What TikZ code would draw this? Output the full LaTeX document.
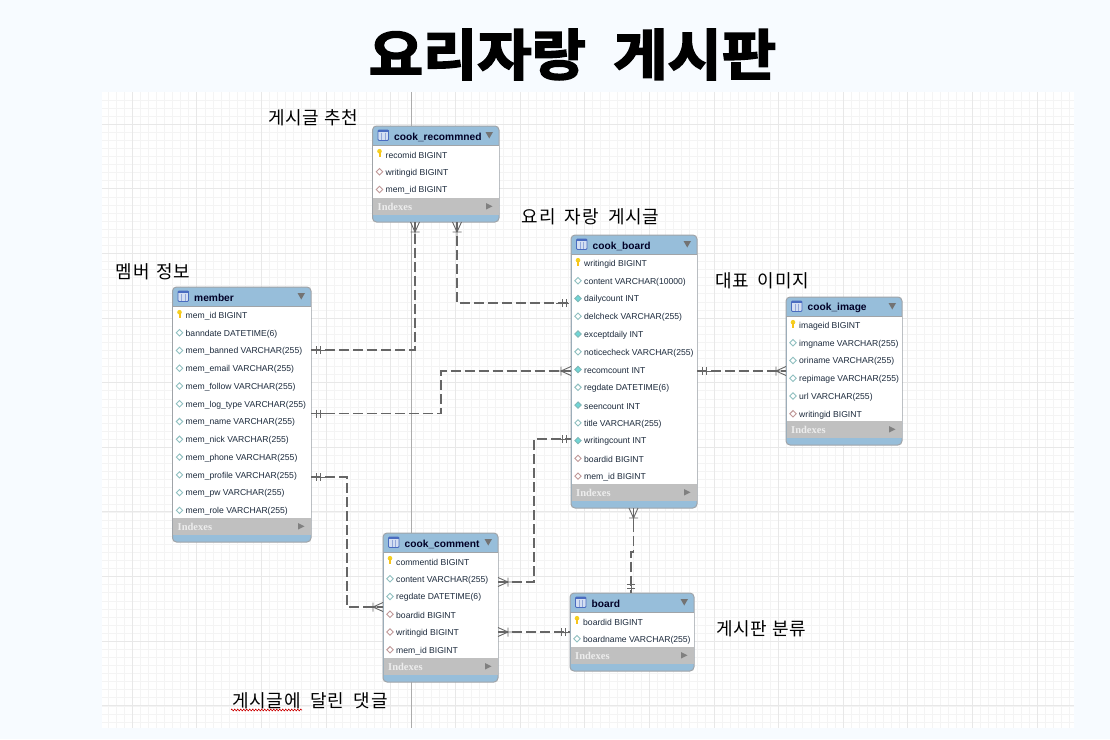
\documentclass[tikz,border=0pt]{standalone}
\usepackage{graphicx}
\usepackage{fontspec}
\setmainfont{Liberation Sans}
\newfontfamily\cjk[LetterSpace=4]{Noto Sans CJK KR}
\newfontfamily\cjktitle[FakeBold=3]{Noto Sans CJK KR Bold}
\newfontfamily\serifb{Liberation Serif Bold}
\usetikzlibrary{decorations.pathmorphing}
\definecolor{pagebg}{HTML}{F7FBFF}
\definecolor{minorg}{HTML}{F4F4F4}
\definecolor{majorg}{HTML}{E8E8E8}
\definecolor{hdr}{HTML}{97BEDA}
\definecolor{band}{HTML}{C0C0C0}
\definecolor{edgeg}{HTML}{A0A4A8}
\definecolor{rowtxt}{HTML}{1C2A3C}
\definecolor{conng}{HTML}{666666}
\definecolor{dplain}{HTML}{8FBFC0}
\definecolor{dnumfill}{HTML}{6FD6D6}
\definecolor{dnumline}{HTML}{7FB8B8}
\definecolor{dfk}{HTML}{C09898}
\definecolor{keyy}{HTML}{F5D020}
\definecolor{iconline}{HTML}{4A6CC0}
\definecolor{iconfill}{HTML}{D4DFF2}
\tikzset{
  x=1pt,y=-1pt,
  tablebox/.style={draw=edgeg,line width=1pt,fill=hdr,rounded corners=4pt,inner sep=0pt,outer sep=0pt,anchor=north west},
  rowtext/.style={anchor=west,inner sep=0pt,font=\fontsize{8.6}{9}\selectfont,text=rowtxt},
  titletext/.style={anchor=west,inner sep=0pt,font=\fontsize{10.2}{11}\selectfont\bfseries,text=black!85!blue},
  indextext/.style={anchor=west,inner sep=0pt,font=\fontsize{10.5}{11}\serifb,text=white!93!black},
  note/.style={inner sep=0pt,font=\fontsize{18}{19}\cjk,text=black},
  conn/.style={draw=conng,line width=1.2pt,dash pattern=on 10pt off 4pt},
  crow/.pic={\draw[conng,line width=.9pt] (0,-4.5)--(10,0)--(0,4.5) (0,0)--(15,0) (10,-4.5)--(10,4.5);},
  onebar/.pic={\draw[conng,line width=.9pt] (2,0)--(15,0) (5,-4)--(5,4) (9,-4)--(9,4);},
}
\def\mkpk#1#2{\fill[keyy] (#1,#2-2.8) circle (2.3pt);\fill[keyy!85!orange] (#1-1,#2-2) rectangle (#1+1,#2+3);}
\def\mkdia#1#2#3#4{\draw[draw=#3,fill=#4,line width=.9pt] (#1-3.2,#2)--(#1,#2-3.2)--(#1+3.2,#2)--(#1,#2+3.2)--cycle;}
\def\mkpl#1#2{\mkdia{#1}{#2}{dplain}{white}}
\def\mknm#1#2{\mkdia{#1}{#2}{dnumline}{dnumfill}}
\def\mkfk#1#2{\mkdia{#1}{#2}{dfk}{white}}
% name, title, x0, y0, x1, y1, rows
\newcommand\ertable[7]{%
  \pgfmathsetmacro\tblw{#5-#3}\pgfmathsetmacro\tblh{#6-#4}%
  \node[tablebox,minimum width=\tblw pt,minimum height=\tblh pt] (#1) at (#3,#4) {};
  \fill[white] (#3+.5,#4+19) rectangle (#5-.5,#6-24);
  \fill[band] (#3+.5,#6-24) rectangle (#5-.5,#6-7);
  \draw[edgeg,line width=.6pt] (#3,#4+19)--(#5,#4+19);
  \draw[iconline,fill=iconfill,line width=.9pt,rounded corners=1pt] (#3+5.5,#4+4) rectangle (#3+16,#4+14.5);
  \draw[iconline!60!white,line width=.4pt] (#3+9,#4+6.5)--(#3+9,#4+14) (#3+12.5,#4+6.5)--(#3+12.5,#4+14);
  \fill[iconline] (#3+5.5,#4+4) rectangle (#3+16,#4+6.2);
  \node[titletext] (#1-title) at (#3+21.5,#4+11) {#2};
  \fill[gray!90!black] (#5-13.5,#4+6)--(#5-6,#4+6)--(#5-9.75,#4+12.5)--cycle;
  \node[indextext] (#1-idx) at (#3+5,#6-15) {Indexes};
  \fill[gray] (#5-13,#6-19)--(#5-13,#6-12.5)--(#5-6.5,#6-15.75)--cycle;
  \foreach \k/\s [count=\i] in {#7}{
    \pgfmathsetmacro\yy{#4+28+(\i-1)*17.76}
    \pgfmathsetmacro\yt{\yy+1.1}
    \csname mk\k\endcsname{#3+7}{\yy}
    \node[rowtext] (#1-r\i) at (#3+13,\yt) {\s};
  }
}
\begin{document}
\begin{tikzpicture}
\useasboundingbox (0,0) rectangle (1110,739);
\fill[pagebg] (0,0) rectangle (1110,739);
\fill[white] (102,92) rectangle (1074,728);
\begin{scope}
\clip (102,92) rectangle (1074,728);
\foreach \i in {-4,...,120}{\draw[minorg,line width=1pt] (132.3+\i*8.08,92)--(132.3+\i*8.08,728);}
\foreach \i in {-5,...,80}{\draw[minorg,line width=1pt] (102,124.3+\i*8.08)--(1074,124.3+\i*8.08);}
\foreach \i in {0,...,15}{\draw[majorg,line width=1pt] (132.3+\i*64.64,92)--(132.3+\i*64.64,728);}
\foreach \i in {0,...,9}{\draw[majorg,line width=1pt] (102,124.3+\i*64.6)--(1074,124.3+\i*64.6);}
\draw[gray!65,line width=1.2pt] (411.5,92)--(411.5,728);
\end{scope}
\node[inner sep=0pt,font=\fontsize{59}{62}\cjktitle] (pagetitle) at (572.5,54.5) {\scalebox{1}[.93]{요리자랑\hspace{14pt} 게시판}};
\node[note] (n1) at (313,118) {게시글 추천};
\node[note] (n2) at (153,272) {멤버\hspace{2pt} 정보};
\node[note] (n3) at (590.5,217) {요리\hspace{4.5pt} 자랑\hspace{4.5pt} 게시글};
\node[note] (n4) at (762,281) {대표\hspace{4pt} 이미지};
\node[note] (n5) at (761,629) {게시판 분류};
\node[note] (n6) at (310,701) {게시글에\hspace{5pt} 달린\hspace{5pt} 댓글};
\draw[red!80!black,line width=.6pt,decorate,decoration={zigzag,segment length=3pt,amplitude=.9pt}] (231,710)--(302,710);
\ertable{cookrec}{cook\_recommned}{372.5}{126}{499}{222}{pk/recomid BIGINT,fk/writingid BIGINT,fk/mem\_id BIGINT}
\ertable{member}{member}{172.5}{287}{311}{542}{pk/mem\_id BIGINT,pl/banndate DATETIME(6),pl/mem\_banned VARCHAR(255),pl/mem\_email VARCHAR(255),pl/mem\_follow VARCHAR(255),pl/mem\_log\_type VARCHAR(255),pl/mem\_name VARCHAR(255),pl/mem\_nick VARCHAR(255),pl/mem\_phone VARCHAR(255),pl/mem\_profile VARCHAR(255),pl/mem\_pw VARCHAR(255),pl/mem\_role VARCHAR(255)}
\ertable{cookboard}{cook\_board}{571}{235}{697}{508}{pk/writingid BIGINT,pl/content VARCHAR(10000),nm/dailycount INT,pl/delcheck VARCHAR(255),nm/exceptdaily INT,pl/noticecheck VARCHAR(255),nm/recomcount INT,pl/regdate DATETIME(6),nm/seencount INT,pl/title VARCHAR(255),nm/writingcount INT,fk/boardid BIGINT,fk/mem\_id BIGINT}
\ertable{cookimage}{cook\_image}{786}{297}{902}{445}{pk/imageid BIGINT,pl/imgname VARCHAR(255),pl/oriname VARCHAR(255),pl/repimage VARCHAR(255),pl/url VARCHAR(255),fk/writingid BIGINT}
\ertable{cookcomment}{cook\_comment}{383}{533}{498}{682}{pk/commentid BIGINT,pl/content VARCHAR(255),pl/regdate DATETIME(6),fk/boardid BIGINT,fk/writingid BIGINT,fk/mem\_id BIGINT}
\ertable{board}{board}{570}{593}{694}{671}{pk/boardid BIGINT,pl/boardname VARCHAR(255)}
% connectors
\draw[conn] ([yshift=-63pt]member.north east) -| ([xshift=42.5pt]cookrec.south west);
\pic at ([yshift=-63pt]member.north east) {onebar};
\pic[rotate=-90] at ([xshift=42.5pt]cookrec.south west) {crow};
\draw[conn] ([xshift=84.5pt]cookrec.south west) |- ([yshift=-68pt]cookboard.north west);
\pic[rotate=-90] at ([xshift=84.5pt]cookrec.south west) {crow};
\pic[rotate=180] at ([yshift=-68pt]cookboard.north west) {onebar};
\draw[conn] ([yshift=-126.5pt]member.north east) -- ++(130,0) |- ([yshift=-136pt]cookboard.north west);
\pic at ([yshift=-126.5pt]member.north east) {onebar};
\pic[rotate=180] at ([yshift=-136pt]cookboard.north west) {crow};
\draw[conn] ([yshift=-136pt]cookboard.north east) -- ([yshift=-74pt]cookimage.north west);
\pic at ([yshift=-136pt]cookboard.north east) {onebar};
\pic[rotate=180] at ([yshift=-74pt]cookimage.north west) {crow};
\draw[conn] ([yshift=-49pt]cookcomment.north east) -- ++(36,0) |- ([yshift=-204pt]cookboard.north west);
\pic at ([yshift=-49pt]cookcomment.north east) {crow};
\pic[rotate=180] at ([yshift=-204pt]cookboard.north west) {onebar};
\draw[conn] ([yshift=-190pt]member.north east) -- ++(36,0) |- ([yshift=-74pt]cookcomment.north west);
\pic at ([yshift=-190pt]member.north east) {onebar};
\pic[rotate=180] at ([yshift=-74pt]cookcomment.north west) {crow};
\draw[conn] ([yshift=-99pt]cookcomment.north east) -- ([yshift=-39pt]board.north west);
\pic at ([yshift=-99pt]cookcomment.north east) {crow};
\pic[rotate=180] at ([yshift=-39pt]board.north west) {onebar};
\draw[conn] ([xshift=62.5pt]cookboard.south west) -- ++(0,44) -- ++(-2.5,0) -- ([xshift=61pt]board.north west);
\pic[rotate=-90] at ([xshift=62.5pt]cookboard.south west) {crow};
\pic[rotate=90] at ([xshift=61pt]board.north west) {onebar};
\end{tikzpicture}
\end{document}
